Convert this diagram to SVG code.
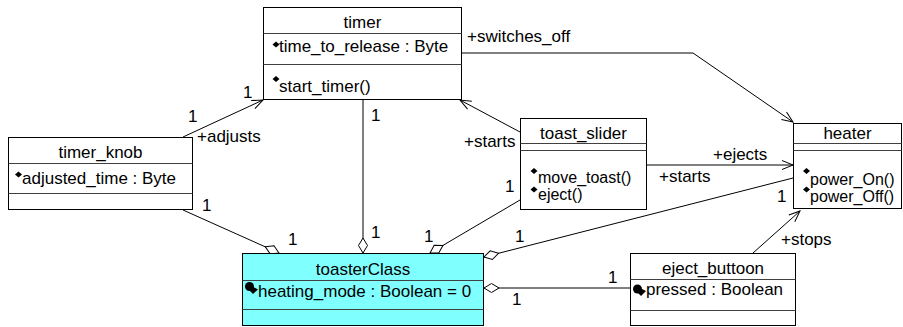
<svg xmlns="http://www.w3.org/2000/svg" width="903" height="327" viewBox="0 0 903 327">
<style>
text{font-family:"Liberation Sans",Arial,sans-serif;font-size:17px;fill:#000}
text.op{font-size:16px}
.box{fill:#fff;stroke:#000;stroke-width:1}
.cyan{fill:#80ffff;stroke:#000;stroke-width:1}
.div{stroke:#404040;stroke-width:1;fill:none}
.ln{stroke:#000;stroke-width:1;fill:none}
.ic{fill:#000}
.c{text-anchor:middle}
</style>
<defs>
<marker id="arr" markerUnits="userSpaceOnUse" markerWidth="14" markerHeight="12" refX="12" refY="6" orient="auto" overflow="visible">
<path d="M1,1.5 L12,6 L1,10.5" fill="none" stroke="#000" stroke-width="1"/>
</marker>
<marker id="dia" markerUnits="userSpaceOnUse" markerWidth="18" markerHeight="12" refX="16" refY="6" orient="auto" overflow="visible">
<path d="M1,6 L8.5,1.5 L16,6 L8.5,10.5 Z" fill="#fff" stroke="#000" stroke-width="1"/>
</marker>
<marker id="diaS" markerUnits="userSpaceOnUse" markerWidth="18" markerHeight="12" refX="1" refY="6" orient="auto" overflow="visible">
<path d="M1,6 L8.5,1.5 L16,6 L8.5,10.5 Z" fill="#fff" stroke="#000" stroke-width="1"/>
</marker>
</defs>

<g id="connectors">
<line class="ln" x1="183" y1="137" x2="263" y2="100" marker-end="url(#arr)"/>
<line class="ln" x1="183" y1="210" x2="279" y2="253" marker-end="url(#dia)"/>
<line class="ln" x1="363" y1="99" x2="363" y2="253" stroke="#555" marker-end="url(#dia)"/>
<line class="ln" x1="520" y1="132" x2="460" y2="100" marker-end="url(#arr)"/>
<line class="ln" x1="520" y1="200" x2="430" y2="253" marker-end="url(#dia)"/>
<line class="ln" x1="647" y1="165" x2="793" y2="165" marker-end="url(#arr)"/>
<polyline class="ln" points="462,53 693,53 793,122" marker-end="url(#arr)"/>
<line class="ln" x1="484" y1="257" x2="793" y2="178" marker-start="url(#diaS)"/>
<line class="ln" x1="484" y1="288" x2="630" y2="288" marker-start="url(#diaS)"/>
<line class="ln" x1="753" y1="253" x2="800" y2="211" marker-end="url(#arr)"/>
<text x="188" y="122">1</text>
<text x="243" y="98">1</text>
<text x="197" y="142">+adjusts</text>
<text x="202" y="211">1</text>
<text x="288" y="245">1</text>
<text x="371" y="121">1</text>
<text x="371" y="238">1</text>
<text x="467" y="42">+switches_off</text>
<text x="464" y="147">+starts</text>
<text x="424" y="242">1</text>
<text x="505" y="192">1</text>
<text x="713" y="160">+ejects</text>
<text x="659" y="182">+starts</text>
<text x="777" y="202">1</text>
<text x="515" y="242">1</text>
<text x="608" y="283">1</text>
<text x="512" y="305">1</text>
<text x="781" y="245">+stops</text>
</g>

<g id="timer">
<rect class="box" x="263.5" y="7.5" width="198" height="92"/>
<line class="div" x1="263.5" y1="33.5" x2="461.5" y2="33.5"/>
<line class="div" x1="263.5" y1="64.5" x2="461.5" y2="64.5"/>
<text class="c" x="362.5" y="28">timer</text>
<polygon class="ic" points="272.5,44.5 276,41.5 279.5,44.5 276,47.5"/>
<text x="279" y="52">time_to_release : Byte</text>
<polygon class="ic" points="272.5,79 276,76 279.5,79 276,82"/>
<text x="279" y="92">start_timer()</text>
</g>

<g id="timer_knob">
<rect class="box" x="8.5" y="137.5" width="184" height="72"/>
<line class="div" x1="8.5" y1="163.5" x2="192.5" y2="163.5"/>
<line class="div" x1="8.5" y1="193.5" x2="192.5" y2="193.5"/>
<text class="c" x="100.5" y="158">timer_knob</text>
<polygon class="ic" points="15,174.5 18.5,171.5 22,174.5 18.5,177.5"/>
<text x="22" y="184">adjusted_time : Byte</text>
</g>

<g id="toast_slider">
<rect class="box" x="520.5" y="118.5" width="126" height="91"/>
<line class="div" x1="520.5" y1="143.5" x2="646.5" y2="143.5"/>
<line class="div" x1="520.5" y1="150.5" x2="646.5" y2="150.5"/>
<text class="c" x="583.5" y="139">toast_slider</text>
<polygon class="ic" points="530.5,171 534,168 537.5,171 534,174"/>
<text class="op" x="538" y="183">move_toast()</text>
<polygon class="ic" points="530.5,189.5 534,186.5 537.5,189.5 534,192.5"/>
<text class="op" x="538" y="200">eject()</text>
</g>

<g id="heater">
<rect class="box" x="793.5" y="123.5" width="108" height="85"/>
<line class="div" x1="793.5" y1="143.5" x2="901.5" y2="143.5"/>
<line class="div" x1="793.5" y1="150.5" x2="901.5" y2="150.5"/>
<text class="c" x="847.5" y="139">heater</text>
<polygon class="ic" points="803,171 806.5,168 810,171 806.5,174"/>
<text class="op" x="810" y="185">power_On()</text>
<polygon class="ic" points="803,189.5 806.5,186.5 810,189.5 806.5,192.5"/>
<text class="op" x="810" y="202">power_Off()</text>
</g>

<g id="toasterClass">
<rect class="cyan" x="242.5" y="253.5" width="241" height="72"/>
<line class="div" x1="242.5" y1="280.5" x2="483.5" y2="280.5"/>
<line class="div" x1="242.5" y1="309.5" x2="483.5" y2="309.5"/>
<text class="c" x="363" y="275">toasterClass</text>
<circle class="ic" cx="249.5" cy="286.5" r="4.5"/>
<polygon class="ic" points="250,285 258,289.5 253,294 248,289"/>
<text x="258" y="297">heating_mode : Boolean = 0</text>
</g>

<g id="eject_buttoon">
<rect class="box" x="630.5" y="253.5" width="165" height="72"/>
<line class="div" x1="630.5" y1="279.5" x2="795.5" y2="279.5"/>
<line class="div" x1="630.5" y1="310.5" x2="795.5" y2="310.5"/>
<text class="c" x="713" y="274">eject_buttoon</text>
<circle class="ic" cx="637.5" cy="289" r="4.5"/>
<polygon class="ic" points="638,287 646,291 641,296 636,291"/>
<text x="646" y="295">pressed : Boolean</text>
</g>
</svg>
